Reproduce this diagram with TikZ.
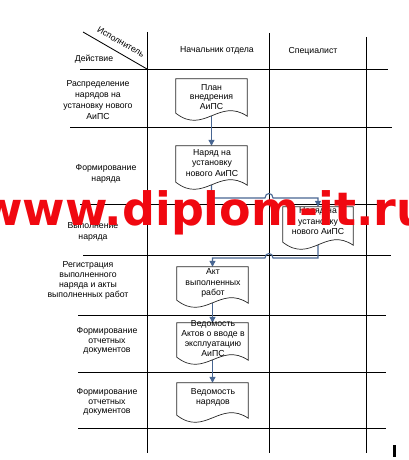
\documentclass[tikz,border=0pt]{standalone}
\usepackage{fontspec}
\setmainfont{Liberation Sans}
\newfontfamily\wmfont{DejaVu Sans}
\usetikzlibrary{arrows.meta,calc}
\definecolor{flowc}{RGB}{72,102,146}
\definecolor{wmred}{RGB}{240,8,16}
\newcommand\docout[1]{\draw[docline] (#1.south west) -- (#1.north west) -- (#1.north east) -- ($(#1.south east)+(0,3)$) .. controls +(-28,-19) and +(28,22) .. (#1.south west) -- cycle;}
\begin{document}
\begin{tikzpicture}[x=1pt,y=-1pt,
  gridl/.style={line width=0.85pt, black},
  docbox/.style={rectangle, inner sep=0pt, minimum width=71pt},
  docline/.style={line width=0.7pt, black!85, fill=white},
  dtext/.style={align=center, inner sep=0pt, font=\fontsize{8.7}{10}\selectfont},
  lbl/.style={align=center, inner sep=0pt, font=\fontsize{8.7}{10.6}\selectfont},
  flow/.style={line width=1.1pt, draw=flowc, -{Triangle[length=6pt,width=6pt,fill=flowc]}}]
\useasboundingbox (0,0) rectangle (409,460);
% grid
\draw[gridl] (147,32) -- (147,453);
\draw[gridl] (269,33) -- (269,453);
\draw[gridl] (366,37) -- (366,453);
\draw[gridl] (80,69) -- (388,69);
\draw[gridl] (70,127) -- (392,127);
\draw[gridl] (80,204) -- (391,204);
\draw[gridl] (83,255) -- (391,255);
\draw[gridl] (78,315) -- (386,315);
\draw[gridl] (78,372) -- (386,372);
\draw[gridl] (78,428) -- (386,428);
\draw[gridl] (83,32) -- (147,69);
\fill (393,445) rectangle (395.5,457);
% header
\node[lbl, rotate=-30] (hisp) at (121,42) {Исполнитель};
\node[lbl] (hdej) at (94,59) {Действие};
\node[lbl] (hnach) at (217,50) {Начальник отдела};
\node[lbl] (hspec) at (313,51) {Специалист};
% row labels
\node[lbl, font=\fontsize{8.7}{11.2}\selectfont] (r1) at (98,100) {Распределение\\нарядов на\\установку нового\\АиПС};
\node[lbl] (r2) at (106,174) {Формирование\\наряда};
\node[lbl] (r3) at (93,232) {Выполнение\\наряда};
\node[lbl, font=\fontsize{8.7}{10}\selectfont] (r4) at (88,280) {Регистрация\\выполненного\\наряда и акты\\выполненных работ};
\node[lbl, font=\fontsize{8.7}{9.8}\selectfont] (r5) at (107,341) {Формирование\\отчетных\\документов};
\node[lbl, font=\fontsize{8.7}{9.8}\selectfont] (r6) at (107,402) {Формирование\\отчетных\\документов};
% document geometry
\node[docbox, minimum height=34pt] (d1) at (211.5,96) {};
\node[docbox, minimum height=36pt] (d2) at (211.5,164) {};
\node[docbox, minimum height=35pt, minimum width=70pt] (d3) at (318,224.5) {};
\node[docbox, minimum height=33pt] (d4) at (212.5,283.5) {};
\node[docbox, minimum height=34pt] (d5) at (212.5,340) {};
\node[docbox, minimum height=32pt] (d6) at (212.5,399) {};
% connectors
\coordinate (j2) at (0,198);
\coordinate (hop2a) at (265,198);
\coordinate (hop2b) at (273,198);
\coordinate (j3) at (0,258);
\coordinate (hop3a) at (265,258);
\coordinate (hop3b) at (273,258);
\draw[flow] (d1.south) -- (d2.north);
\draw[flow] (d2.south) -- (d2.south |- j2) -- (hop2a) .. controls +(0,-6) and +(0,-6) .. (hop2b) -- (d3.north |- j2) -- (d3.north);
\draw[flow] (d3.south) -- (d3.south |- j3) -- (hop3b) .. controls +(0,-6) and +(0,-6) .. (hop3a) -- (d4.north |- j3) -- (d4.north);
\draw[flow] (d4.south) -- (d5.north);
\draw[flow] (d5.south) -- (d6.north);
% document outlines
\docout{d1}\docout{d2}\docout{d3}\docout{d4}\docout{d5}\docout{d6}
% document texts
\node[dtext, font=\fontsize{8.7}{9.6}\selectfont] (t1) at (211.5,97) {План\\внедрения\\АиПС};
\node[dtext, font=\fontsize{8.7}{10.5}\selectfont] (t2) at (212,163) {Наряд на\\установку\\нового АиПС};
\node[dtext, font=\fontsize{8.7}{10.5}\selectfont] (t3) at (318,221.5) {Наряд на\\установку\\нового АиПС};
\node[dtext, font=\fontsize{8.7}{10.5}\selectfont] (t4) at (213,283) {Акт\\выполненных\\работ};
\node[dtext] (t5) at (213,338.5) {Ведомость\\Актов о вводе в\\эксплуатацию\\АиПС};
\node[dtext] (t6) at (213,397) {Ведомость\\нарядов};
% watermark
\node[anchor=base west, inner sep=0pt, text=wmred, font=\wmfont\bfseries\fontsize{46}{46}\selectfont] (wm) at (-20,225) {www.diplom-it.ru};
\end{tikzpicture}
\end{document}
